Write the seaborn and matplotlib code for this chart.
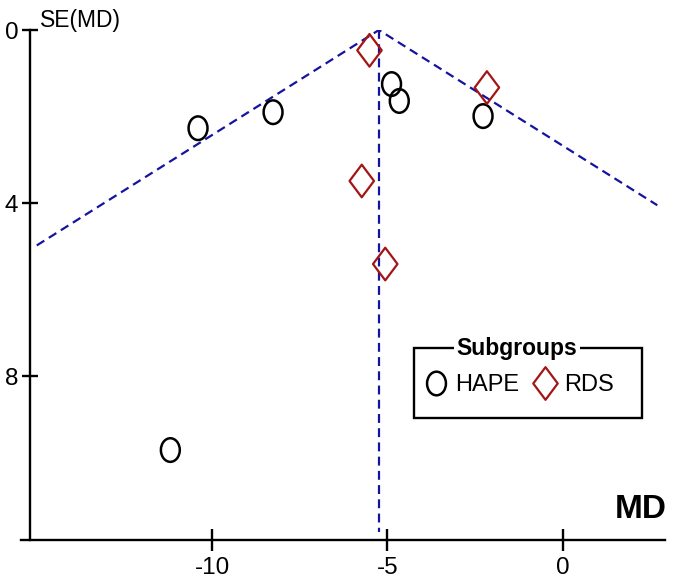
import numpy as np
import pandas as pd
import matplotlib
matplotlib.use("Agg")
import matplotlib.pyplot as plt
import seaborn as sns
from matplotlib.path import Path
from matplotlib.transforms import Affine2D
from matplotlib.lines import Line2D
from matplotlib.patches import Rectangle

# data
hape_md = [-10.40, -8.26, -4.88, -4.66, -2.27, -11.19]
hape_se = [2.27, 1.90, 1.25, 1.64, 1.99, 9.71]
rds_md = [-5.51, -2.16, -5.73, -5.06]
rds_se = [0.47, 1.33, 3.49, 5.41]
pooled_md = -5.24
funnel_left, funnel_right = -15.0, 2.7
x_ticks = [-10, -5, 0]
y_ticks = [0, 4, 8]

sns.set_style("ticks")
plt.rcParams["font.family"] = ["Liberation Sans", "DejaVu Sans"]
plt.rcParams["text.color"] = "black"
plt.rcParams["xtick.color"] = "black"
plt.rcParams["ytick.color"] = "black"
plt.rcParams["axes.unicode_minus"] = False

blue = "#1414a0"
red = "#a31515"

# markers: tall ellipse and tall diamond
ellipse = Path.unit_circle().transformed(Affine2D().scale(0.8, 1.0))
diamond = Path([(-0.75, 0), (0, 1), (0.75, 0), (0, -1), (-0.75, 0)],
               [Path.MOVETO, Path.LINETO, Path.LINETO, Path.LINETO, Path.CLOSEPOLY])

df_hape = pd.DataFrame({"MD": hape_md, "SE": hape_se})
df_rds = pd.DataFrame({"MD": rds_md, "SE": rds_se})

fig = plt.figure(figsize=(6.75, 5.85), dpi=100)
ax = fig.add_axes([0.0311, 0.0769, 0.9541, 0.8718])

# funnel (pooled +/- 1.96 SE)
se_left = (pooled_md - funnel_left) / 1.96
se_right = (funnel_right - pooled_md) / 1.96
ax.plot([funnel_left, pooled_md, funnel_right], [se_left, 0, se_right],
        color=blue, lw=1.6, ls=(0, (4.0, 2.4)), zorder=1)
ax.plot([pooled_md, pooled_md], [0, 11.6], color=blue, lw=1.6,
        ls=(0, (4.0, 2.4)), zorder=1)

sns.scatterplot(data=df_hape, x="MD", y="SE", ax=ax, marker=ellipse, s=17 ** 2,
                facecolor="none", edgecolor="black", linewidth=1.8, zorder=3)
sns.scatterplot(data=df_rds, x="MD", y="SE", ax=ax, marker=diamond, s=23.5 ** 2,
                facecolor="none", edgecolor=red, linewidth=1.6, zorder=3)

ax.set_xlim(-15.45, 2.92)
ax.set_ylim(11.79, 0)
ax.spines["left"].set_position(("data", -15.19))
for s in ["top", "right"]:
    ax.spines[s].set_visible(False)
for s in ["left", "bottom"]:
    ax.spines[s].set_linewidth(1.7)
    ax.spines[s].set_color("black")
ax.set_xticks(x_ticks)
ax.set_yticks(y_ticks)
ax.tick_params(axis="x", direction="inout", length=16.5, width=1.7, labelsize=17.5, pad=4)
ax.tick_params(axis="y", direction="inout", length=11, width=1.7, labelsize=17.5, pad=3)
ax.set_xlabel("")
ax.set_ylabel("")

fig.text(40 / 675, 1 - 27 / 585, "SE(MD)", fontsize=16.5, ha="left", va="baseline")
fig.text(667 / 675, 1 - 518 / 585, "MD", fontsize=24, fontweight="bold",
         ha="right", va="baseline")

# legend with fieldset-style frame
fig.patches.append(Rectangle((414 / 675, 1 - 418 / 585), 228 / 675, 70 / 585,
                             transform=fig.transFigure, fill=False,
                             edgecolor="black", lw=1.7))
fig.text(517 / 675, 1 - 355 / 585, "Subgroups", fontsize=16.5, fontweight="bold",
         ha="center", va="baseline",
         bbox=dict(facecolor="white", edgecolor="none", pad=2))
handles = [Line2D([], [], ls="none", marker=ellipse, markersize=17,
                  markerfacecolor="none", markeredgecolor="black", markeredgewidth=1.8),
           Line2D([], [], ls="none", marker=diamond, markersize=23.5,
                  markerfacecolor="none", markeredgecolor=red, markeredgewidth=1.6)]
ax.legend(handles, ["HAPE", "RDS"], ncol=2, frameon=False, fontsize=17,
          loc="center", bbox_to_anchor=(519 / 675, 1 - 385 / 585),
          bbox_transform=fig.transFigure, handlelength=1.0, handletextpad=0.3,
          columnspacing=0.6, borderpad=0)

fig.savefig("out.png", dpi=100)
